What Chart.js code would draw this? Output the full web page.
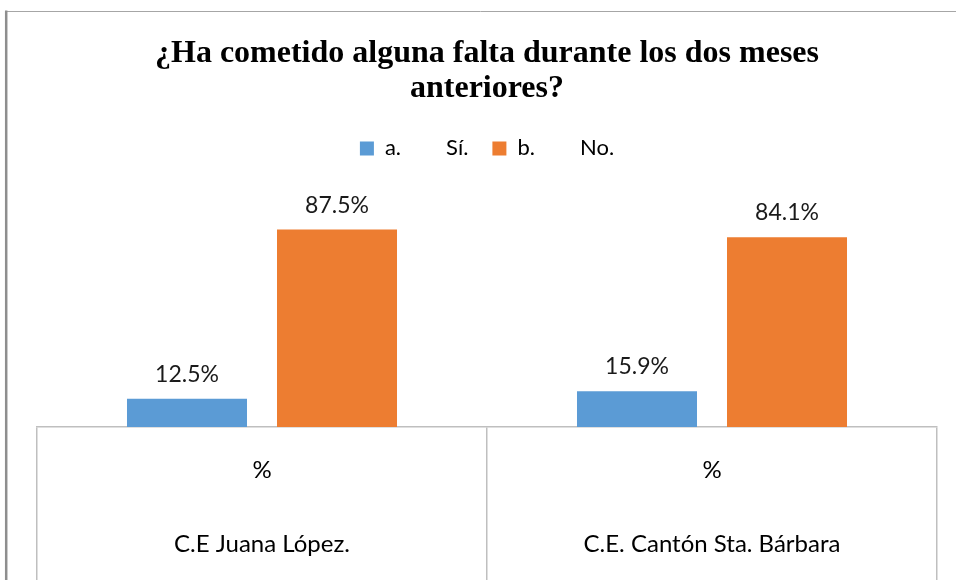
<!DOCTYPE html>
<html>
<head>
<meta charset="utf-8">
<script src="https://cdn.jsdelivr.net/npm/chart.js@4/dist/chart.umd.min.js"></script>
<style>
  html, body { margin: 0; padding: 0; background: #fff; }
  #wrap { width: 956px; height: 580px; position: relative; }
</style>
</head>
<body>
<div id="wrap"><canvas id="chart" width="956" height="580"></canvas></div>
<script>
// data
const units = ['%', '%'];
const schools = ['C.E Juana López.', 'C.E. Cantón Sta. Bárbara'];
const seriesNames = ['a.        Sí.', 'b.        No.'];
const valuesSi = [12.5, 15.9];
const valuesNo = [87.5, 84.1];
const colors = ['#5B9BD5', '#ED7D31'];

const labelFont = "Lato, 'Open Sans', sans-serif";

// outer frame like the Excel chart border
const framePlugin = {
  id: 'frame',
  beforeDraw(chart) {
    const ctx = chart.ctx;
    ctx.save();
    ctx.strokeStyle = '#A6A6A6';
    ctx.lineWidth = 1;
    ctx.beginPath();
    ctx.moveTo(5, 11.5);
    ctx.lineTo(chart.width, 11.5);
    ctx.stroke();
    ctx.strokeStyle = '#8E8E8E';
    ctx.lineWidth = 2.5;
    ctx.beginPath();
    ctx.moveTo(6.2, 10.5);
    ctx.lineTo(6.2, chart.height);
    ctx.stroke();
    ctx.restore();
  }
};

// value labels above bars
const barLabels = {
  id: 'barLabels',
  afterDatasetsDraw(chart) {
    const ctx = chart.ctx;
    ctx.save();
    ctx.font = '23px ' + labelFont;
    ctx.fillStyle = '#1a1a1a';
    ctx.textAlign = 'center';
    ctx.textBaseline = 'alphabetic';
    chart.data.datasets.forEach((ds, i) => {
      chart.getDatasetMeta(i).data.forEach((bar, j) => {
        ctx.fillText(ds.data[j].toFixed(1) + '%', bar.x, bar.y - 17);
      });
    });
    ctx.restore();
  }
};

new Chart(document.getElementById('chart'), {
  type: 'bar',
  data: {
    labels: units.map((u, i) => [u, schools[i]]),
    datasets: [
      { label: seriesNames[0], data: valuesSi, backgroundColor: colors[0] },
      { label: seriesNames[1], data: valuesNo, backgroundColor: colors[1] }
    ]
  },
  options: {
    responsive: false,
    animation: false,
    layout: { padding: { top: 36, left: 37, right: 19, bottom: 0 } },
    datasets: {
      bar: { categoryPercentage: 0.6667, barPercentage: 0.8 }
    },
    scales: {
      x: {
        grid: {
          offset: true,
          drawOnChartArea: false,
          drawTicks: true,
          tickLength: 160,
          color: '#BFBFBF',
          lineWidth: 1.5
        },
        border: { color: '#BFBFBF', width: 1.5 },
        ticks: {
          padding: -154,
          color: '#000',
          font: { family: labelFont, size: 24, lineHeight: 74 / 24 }
        },
        afterFit(scale) { scale.height = 153; }
      },
      // empty band between legend and plot
      gap: {
        type: 'category',
        position: 'top',
        grid: { display: false },
        border: { display: false },
        ticks: { display: false },
        afterFit(scale) { scale.height = 32; }
      },
      y: { display: false, min: 0, max: 100 }
    },
    plugins: {
      title: {
        display: true,
        text: ['¿Ha cometido alguna falta durante los dos meses', 'anteriores?'],
        color: '#000',
        font: { family: "'Liberation Serif', 'Times New Roman', serif", size: 32, weight: 'bold', lineHeight: 1.1 },
        padding: { top: 0, bottom: 7 }
      },
      legend: {
        labels: {
          color: '#000',
          boxWidth: 14,
          boxHeight: 14,
          padding: 24,
          font: { family: labelFont, size: 22 }
        }
      },
      tooltip: { enabled: false }
    }
  },
  plugins: [framePlugin, barLabels]
});
</script>
</body>
</html>
